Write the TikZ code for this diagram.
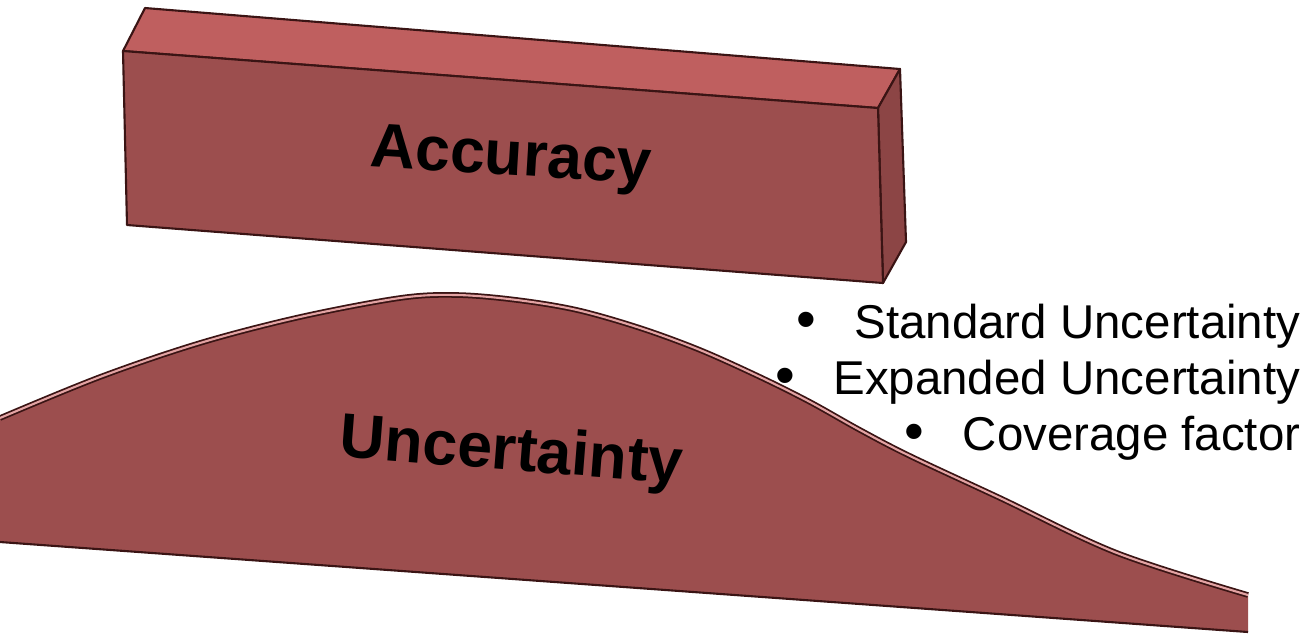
\documentclass[tikz,border=0pt]{standalone}
\usepackage{fontspec}
\setmainfont{Liberation Sans}
\usetikzlibrary{positioning}
\definecolor{dessus}{HTML}{BF5F5F}
\definecolor{face}{HTML}{9C4E4E}
\definecolor{flanc}{HTML}{8C4545}
\definecolor{trait}{HTML}{3A1414}
\definecolor{reflet}{HTML}{E3A3A3}
\newcommand{\profil}{plot[smooth, tension=0.55] coordinates {(0,418) (100,377) (200,343)
  (300,317) (400,298) (457,295) (517,300) (577,310) (640,328) (700,350) (760,377)
  (810,402) (860,430) (910,456) (1000,498) (1117,553) (1248,595)}}
\newcommand{\grospoint}{{\fontsize{16}{16}\selectfont\textbullet}}

\begin{document}
\begin{tikzpicture}[
  x=0.1mm, y=-0.1mm,
  arete/.style={draw=trait, line width=0.6pt, line join=round},
  titre/.style={font=\fontsize{17.8}{20}\selectfont\bfseries, text=black,
                inner sep=0pt, anchor=base},
  puce/.style={font=\fontsize{13.5}{16}\selectfont, anchor=base east, inner sep=0pt},
]
\useasboundingbox (0,0) rectangle (1307,639);
% le bloc
\path[arete, fill=dessus] (145,8) -- (900,69) -- (878,108) -- (123,51) -- cycle;
\path[arete, fill=flanc] (878,108) -- (900,69) -- (906,242) -- (883,283) -- cycle;
\path[arete, fill=face] (123,51) -- (878,108) -- (883,283) -- (127,225) -- cycle;
\node[titre, rotate=-3.5] (acc) at (510,175) {Accuracy};
% la cloche
\fill[face] \profil -- (1248,632) -- (0,542) -- cycle;
\draw[trait, line width=0.6pt] (0,542) -- (1248,632);
\draw[draw=trait, line width=0.5pt, double=reflet, double distance=0.6pt] \profil;
\node[titre, rotate=-4.5] (unc) at (510,470) {Uncertainty};
% la liste
\node[puce] (std) at (1301,338) {\grospoint\hspace{11pt}Standard Uncertainty};
\node[puce] (exp) at (1301,394) {\grospoint\hspace{11pt}Expanded Uncertainty};
\node[puce] (cov) at (1301,450) {\grospoint\hspace{11pt}Coverage factor};
\end{tikzpicture}
\end{document}
